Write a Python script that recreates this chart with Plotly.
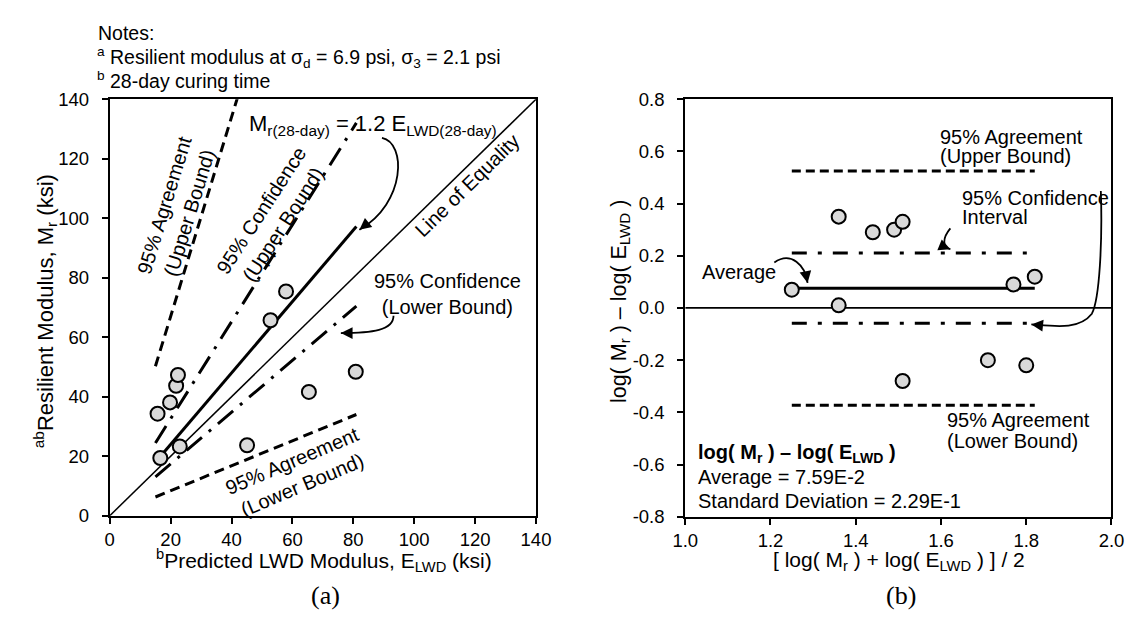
import plotly.graph_objects as go

FONT = "Arial, Liberation Sans, sans-serif"
W, H = 1138, 625

# ---------------- Panel (a) data (ksi) ----------------
E_lwd = [15.7, 16.6, 19.8, 21.8, 22.4, 23.0, 45.1, 52.8, 57.9, 65.4, 80.8]
M_r = [34.3, 19.4, 38.1, 43.7, 47.3, 23.3, 23.7, 65.7, 75.4, 41.6, 48.4]

# fitted / bound lines of panel (a): ratio Mr/E_LWD, drawn over E range
line_E = [15, 81]
ratio_fit = 1.2
ratio_agree_up = 3.35
ratio_conf_up = 1.63
ratio_conf_lo = 0.87
ratio_agree_lo = 0.42
equality = [0, 140]

# ---------------- Panel (b) data ----------------
mean_log = [1.25, 1.36, 1.36, 1.44, 1.49, 1.51, 1.51, 1.71, 1.77, 1.80, 1.82]
diff_log = [0.07, 0.35, 0.01, 0.29, 0.30, 0.33, -0.28, -0.20, 0.09, -0.22, 0.12]

band_x = [1.25, 1.82]
avg = 0.0759
agree_up = 0.525
conf_up = 0.211
conf_lo = -0.059
agree_lo = -0.373
zero_x = [1.0, 2.0]

xa_ticks = [0, 20, 40, 60, 80, 100, 120, 140]
xb_ticks = [1.0, 1.2, 1.4, 1.6, 1.8, 2.0]
xb_text = ["1.0", "1.2", "1.4", "1.6", "1.8", "2.0"]
yb_ticks = [-0.8, -0.6, -0.4, -0.2, 0.0, 0.2, 0.4, 0.6, 0.8]
yb_text = ["-0.8", "-0.6", "-0.4", "-0.2", "0.0", "0.2", "0.4", "0.6", "0.8"]

fig = go.Figure()

DASH_A = "10px,6px"
DASHDOT_A = "20px,9px,3px,9px"
DASH_B = "9px,5px"
DASHDOT_B = "15px,11px,4px,11px"
TXT = 20


def ratio_line(r, dash, width=3):
    fig.add_trace(go.Scatter(x=line_E, y=[r * e for e in line_E], mode="lines",
                             line=dict(color="black", width=width, dash=dash),
                             showlegend=False, hoverinfo="skip"))


# Panel (a) lines
fig.add_trace(go.Scatter(x=equality, y=equality, mode="lines",
                         line=dict(color="black", width=1.5), showlegend=False, hoverinfo="skip"))
ratio_line(ratio_fit, "solid")
ratio_line(ratio_agree_up, DASH_A)
ratio_line(ratio_agree_lo, DASH_A)
ratio_line(ratio_conf_up, DASHDOT_A)
ratio_line(ratio_conf_lo, DASHDOT_A)


# Panel (b) lines
def hline(yv, dash, width=3, xs=band_x):
    fig.add_trace(go.Scatter(x=xs, y=[yv, yv], mode="lines",
                             line=dict(color="black", width=width, dash=dash),
                             xaxis="x2", yaxis="y2", showlegend=False, hoverinfo="skip"))


hline(0.0, "solid", 1.8, zero_x)
hline(avg, "solid")
hline(agree_up, DASH_B)
hline(agree_lo, DASH_B)
hline(conf_up, DASHDOT_B)
hline(conf_lo, DASHDOT_B)

marker = dict(size=14, color="#d9d9d9", line=dict(color="black", width=2))
fig.add_trace(go.Scatter(x=E_lwd, y=M_r, mode="markers", marker=marker,
                         showlegend=False, cliponaxis=False))
fig.add_trace(go.Scatter(x=mean_log, y=diff_log, mode="markers", marker=marker,
                         xaxis="x2", yaxis="y2", showlegend=False, cliponaxis=False))


# ---------------- axes ----------------
def px_x(p):
    return p / W


def px_y(p):
    return 1 - p / H


axis_common = dict(showgrid=False, zeroline=False, showline=True, linecolor="black",
                   linewidth=2, mirror=True, ticks="outside", ticklen=6, tickwidth=2,
                   tickcolor="black", tickfont=dict(family=FONT, size=18.5, color="black"))

fig.update_layout(
    width=W, height=H, margin=dict(l=0, r=0, t=0, b=0),
    paper_bgcolor="white", plot_bgcolor="white", showlegend=False,
    font=dict(family=FONT, size=18, color="black"),
    xaxis=dict(domain=[px_x(91), px_x(528)], range=[0, 140], tickvals=xa_ticks,
               anchor="y", **axis_common),
    yaxis=dict(domain=[px_y(514), px_y(83)], range=[0, 140], tickvals=xa_ticks,
               anchor="x", ticklabelstandoff=9, **axis_common),
    xaxis2=dict(domain=[px_x(681), px_x(1118)], range=[1.0, 2.0], tickvals=xb_ticks,
                ticktext=xb_text, anchor="y2", **axis_common),
    yaxis2=dict(domain=[px_y(515), px_y(83)], range=[-0.8, 0.8], tickvals=yb_ticks,
                ticktext=yb_text, anchor="x2", ticklabelstandoff=9, **axis_common),
)

ann = []


def text(t, x, y, xref="x", yref="y", size=TXT, angle=0, xanchor="center", yanchor="middle",
         family=FONT):
    ann.append(dict(text=t, x=x, y=y, xref=xref, yref=yref, showarrow=False,
                    textangle=angle, xanchor=xanchor, yanchor=yanchor,
                    font=dict(family=family, size=size, color="black")))


def ptext(t, px, py, **kw):
    text(t, px_x(px), px_y(py), xref="paper", yref="paper", **kw)


# Notes
ptext("Notes:", 77, 15, size=19.5, xanchor="left")
ptext("<sup>a</sup> Resilient modulus at σ<sub>d</sub> = 6.9 psi, σ<sub>3</sub> = 2.1 psi", 76, 40,
      size=19.5, xanchor="left")
ptext("<sup>b</sup> 28-day curing time", 76, 63, size=19.5, xanchor="left")

# axis titles
ptext("<sup>ab</sup>Resilient Modulus, M<sub>r</sub> (ksi)", 25, 302, size=22, angle=-90)
ptext("<sup>b</sup>Predicted LWD Modulus, E<sub>LWD</sub> (ksi)", 311, 560, size=21)
ptext("[ log( M<sub>r</sub> ) + log( E<sub>LWD</sub> ) ] / 2", 900, 561, size=21)
ptext("log( M<sub>r</sub> ) – log( E<sub>LWD</sub> )", 614, 292, size=21.5, angle=-90)
ptext("(a)", 312, 597, size=26, family="Liberation Serif, Times New Roman, serif")
ptext("(b)", 902, 597, size=26, family="Liberation Serif, Times New Roman, serif")

# Panel (a) labels
text("M<sub>r(28-day)</sub> = 1.2 E<sub>LWD(28-day)</sub>", 45.2, 131.2, size=22, xanchor="left")
text("Line of Equality", 117.6, 111, angle=-44.5)
text("95% Agreement<br>(Upper Bound)", 22.1, 103, angle=-73)
text("95% Confidence<br>(Upper Bound)", 53.5, 100.3, angle=-57)
text("95% Agreement<br>(Lower Bound)", 61.5, 14.3, angle=-23)
text("95% Confidence<br>(Lower Bound)", 110.9, 74.5)

# Panel (b) labels
text("95% Agreement", 1.592, 0.655, "x2", "y2", xanchor="left")
text("(Upper Bound)", 1.592, 0.583, "x2", "y2", xanchor="left")
text("95% Confidence", 1.644, 0.422, "x2", "y2", xanchor="left")
text("Interval", 1.644, 0.348, "x2", "y2", xanchor="left")
text("95% Agreement", 1.610, -0.43, "x2", "y2", xanchor="left")
text("(Lower Bound)", 1.610, -0.51, "x2", "y2", xanchor="left")
text("Average", 1.125, 0.138, "x2", "y2")
text("<b>log( M<sub>r</sub> ) – log( E<sub>LWD</sub> )</b>", 1.025, -0.559, "x2", "y2", xanchor="left")
text("Average = 7.59E-2", 1.025, -0.646, "x2", "y2", xanchor="left")
text("Standard Deviation = 2.29E-1", 1.025, -0.738, "x2", "y2", xanchor="left")

shapes = []


def curve(pts, xref, yref, tail, head):
    (x0, y0) = pts[0]
    d = f"M {x0},{y0}"
    for i in range(1, len(pts), 3):
        c1, c2, e = pts[i], pts[i + 1], pts[i + 2]
        d += f" C {c1[0]},{c1[1]} {c2[0]},{c2[1]} {e[0]},{e[1]}"
    shapes.append(dict(type="path", path=d, xref=xref, yref=yref,
                       line=dict(color="black", width=1.8)))
    ann.append(dict(x=head[0], y=head[1], ax=tail[0], ay=tail[1], xref=xref, yref=yref,
                    axref=xref, ayref=yref, text="", showarrow=True, arrowhead=2,
                    arrowsize=1.3, arrowwidth=1.8, arrowcolor="black"))


# equation arrow
curve([(89.4, 127.0), (97.4, 125.4), (97.4, 105.2), (82.0, 96.1)], "x", "y",
      (83.6, 97.4), (82.0, 96.1))
# CI lower arrow
curve([(93.2, 67.2), (93.2, 62.3), (86.2, 61.4), (75.9, 61.4)], "x", "y",
      (78.5, 61.4), (75.9, 61.4))
# Average arrow
curve([(1.209, 0.174), (1.248, 0.219), (1.282, 0.163), (1.287, 0.096)], "x2", "y2",
      (1.284, 0.122), (1.287, 0.096))
# Interval small arrow
curve([(1.622, 0.305), (1.603, 0.268), (1.603, 0.233), (1.622, 0.225)], "x2", "y2",
      (1.610, 0.233), (1.622, 0.225))
# big CI arrow
curve([(1.975, 0.448), (1.979, 0.256), (1.972, 0.033), (1.954, -0.022),
       (1.924, -0.085), (1.867, -0.070), (1.812, -0.063)], "x2", "y2",
      (1.835, -0.067), (1.812, -0.063))

fig.update_layout(annotations=ann, shapes=shapes)
fig.write_html("out.html")
